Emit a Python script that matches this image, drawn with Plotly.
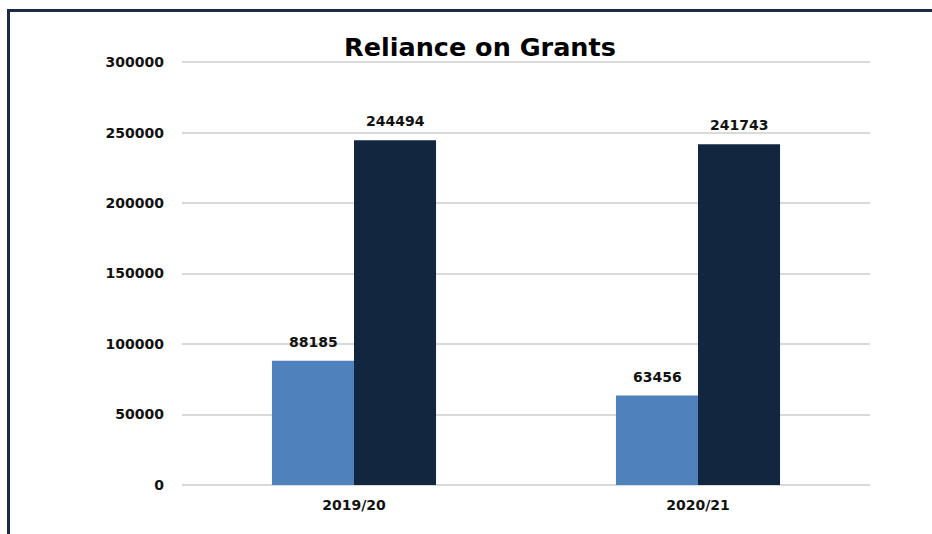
import plotly.graph_objects as go

# Chart data
categories = ["2019/20", "2020/21"]
grant_values = [88185, 63456]
total_values = [244494, 241743]
y_ticks = [0, 50000, 100000, 150000, 200000, 250000, 300000]

LIGHT = "#4f81bd"
DARK = "#132640"
FRAME = "#1b2a45"
FONT = "DejaVu Sans"
TXT = "#111111"

fig = go.Figure()
series = [("Series 1", grant_values, LIGHT, -0.5), ("Series 2", total_values, DARK, 0.5)]
for name, vals, col, _ in series:
    fig.add_trace(go.Bar(
        name=name, x=categories, y=vals, marker=dict(color=col, line=dict(width=0)),
    ))

# Value labels above each bar, offset to its own slot in the group
for name, vals, col, side in series:
    for i, v in enumerate(vals):
        fig.add_annotation(
            x=i, y=v, xref="x", yref="y", text=f"<b>{v}</b>", showarrow=False,
            xshift=side * 82, yshift=19, yanchor="middle",
            font=dict(family=FONT, size=14, color=TXT),
        )

PLOT_TOP, PLOT_BOTTOM = 60, 485
plot_h = PLOT_BOTTOM - PLOT_TOP

fig.update_layout(
    width=932, height=534,
    margin=dict(l=182, r=62, t=PLOT_TOP, b=534 - PLOT_BOTTOM),
    paper_bgcolor="white", plot_bgcolor="white",
    barmode="group", bargap=0.523, bargroupgap=0,
    showlegend=False,
    title=dict(text="<b>Reliance on Grants</b>", x=0.515, xanchor="center",
               y=1 - 47 / 534, yanchor="middle",
               font=dict(family=FONT, size=25.5, color="#000000")),
    xaxis=dict(showgrid=False, showline=False, ticks="", ticklabelstandoff=10,
               tickvals=[0, 1], ticktext=[f"<b>{c}</b>" for c in categories],
               tickfont=dict(family=FONT, size=14, color=TXT)),
    # headroom above the top tick keeps its gridline visible
    yaxis=dict(range=[0, 301500], tickvals=y_ticks,
               ticktext=[f"<b>{v}</b>" for v in y_ticks],
               showgrid=True, gridcolor="#d9d9d9", gridwidth=1.5,
               zeroline=True, zerolinecolor="#d9d9d9", zerolinewidth=1.5,
               ticks="", ticklabelstandoff=17,
               tickfont=dict(family=FONT, size=14, color=TXT)),
)

# Outer frame around the chart
fig.add_shape(type="rect", xref="paper", yref="paper",
              x0=(8.5 - 182) / 688, x1=(945 - 182) / 688,
              y0=(PLOT_BOTTOM - 560) / plot_h, y1=(PLOT_BOTTOM - 10.5) / plot_h,
              line=dict(color=FRAME, width=3), fillcolor="rgba(0,0,0,0)", layer="above")

fig.write_html("out.html")
